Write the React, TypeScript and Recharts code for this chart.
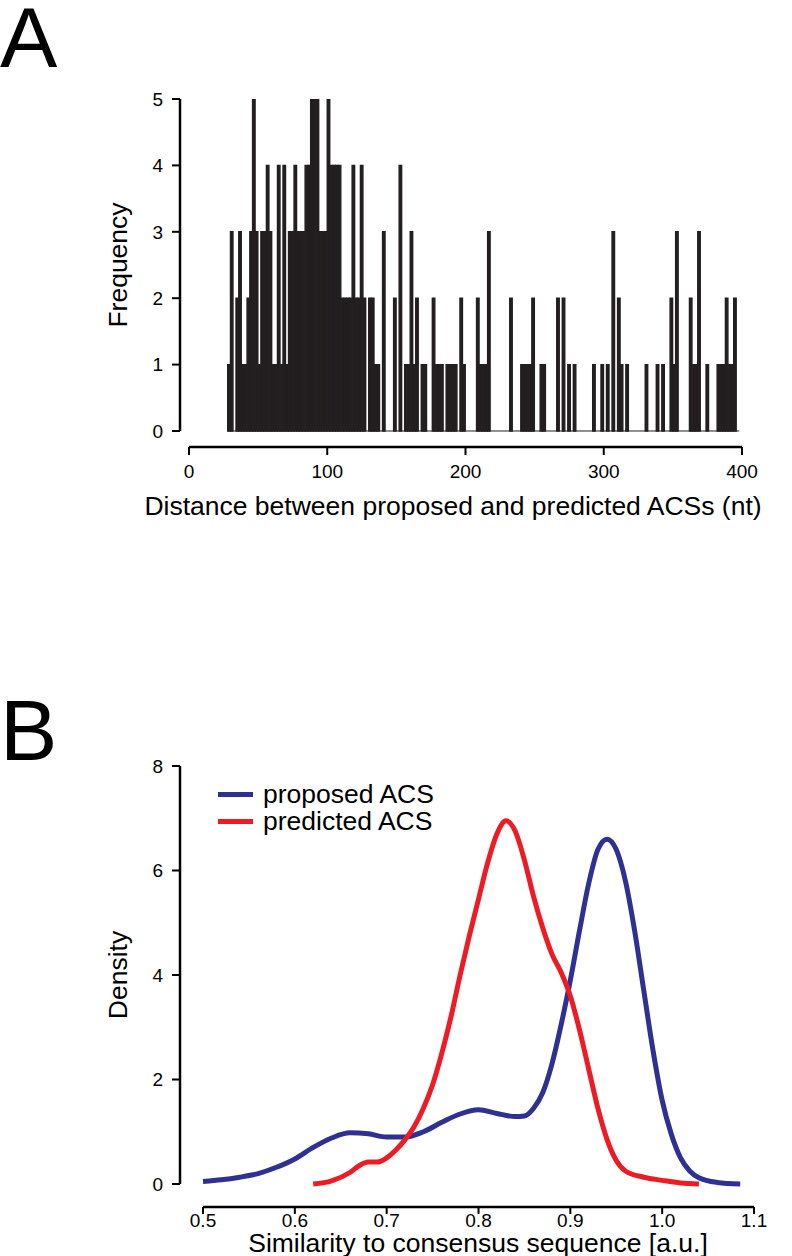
import React from 'react';
import { ComposedChart, Bar, XAxis, YAxis, ReferenceLine, LineChart, Line } from 'recharts';

// ---------- Panel A: histogram (2-nt bins, start of bin) ----------
const binStarts = [
  28, 30, 34, 36, 38, 40, 42, 44, 46, 48, 50, 52, 54, 56, 58, 60, 62, 64, 66, 68,
  70, 72, 74, 76, 78, 80, 82, 84, 86, 88, 90, 92, 94, 96, 98, 100, 102, 104, 106, 108,
  110, 112, 114, 116, 118, 120, 122, 124, 126, 130, 132, 134, 136, 140, 148, 152, 156, 158, 160, 162,
  164, 168, 170, 176, 178, 180, 182, 186, 188, 190, 192, 196, 198, 208, 210, 212, 214, 216, 232, 240,
  242, 244, 246, 248, 254, 256, 266, 270, 274, 278, 292, 298, 302, 306, 310, 312, 316, 330, 338, 342,
  348, 350, 352, 362, 364, 366, 368, 374, 382, 384, 386, 388, 390, 392, 394,
];
const binCounts = [
  1, 3, 2, 3, 1, 1, 2, 3, 5, 3, 1, 3, 3, 4, 3, 1, 1, 4, 1, 4,
  1, 3, 3, 4, 3, 3, 3, 4, 4, 5, 5, 5, 3, 3, 3, 5, 4, 4, 4, 4,
  2, 2, 2, 2, 4, 2, 2, 4, 2, 2, 2, 1, 1, 3, 2, 4, 1, 1, 3, 1,
  2, 1, 1, 2, 1, 1, 1, 1, 1, 1, 1, 2, 1, 2, 1, 1, 1, 3, 2, 1,
  1, 1, 1, 2, 1, 1, 2, 2, 1, 1, 1, 1, 1, 3, 2, 1, 1, 1, 1, 1,
  2, 1, 3, 2, 1, 1, 3, 1, 1, 1, 1, 2, 1, 1, 2,
];
const binWidth = 2;
const histXTicks = [0, 100, 200, 300, 400];
const histYTicks = [0, 1, 2, 3, 4, 5];

// ---------- Panel B: density curves ----------
const proposedX = [
  0.5, 0.52, 0.54, 0.56, 0.58, 0.6, 0.62, 0.64, 0.66, 0.68, 0.7, 0.72, 0.74, 0.76, 0.78, 0.8,
  0.82, 0.84, 0.85, 0.86, 0.87, 0.88, 0.89, 0.9, 0.91, 0.92, 0.93, 0.94, 0.95, 0.96, 0.97, 0.98,
  0.99, 1.0, 1.01, 1.02, 1.03, 1.04, 1.06, 1.085,
];
const proposedY = [
  0.05, 0.08, 0.13, 0.2, 0.32, 0.48, 0.7, 0.88, 0.98, 0.96, 0.9, 0.9, 1.0, 1.18, 1.34, 1.42,
  1.35, 1.29, 1.3, 1.45, 1.75, 2.3, 3.05, 3.9, 4.85, 5.75, 6.4, 6.6, 6.4, 5.8, 4.85, 3.7,
  2.56, 1.6, 0.95, 0.5, 0.25, 0.12, 0.03, 0.0,
];
const predictedX = [
  0.62, 0.64, 0.66, 0.67, 0.68, 0.69, 0.7, 0.71, 0.72, 0.73, 0.74, 0.75, 0.76, 0.77, 0.78, 0.79,
  0.8, 0.81, 0.82, 0.83, 0.84, 0.85, 0.86, 0.87, 0.88, 0.89, 0.9, 0.91, 0.92, 0.93, 0.94, 0.95,
  0.96, 0.98, 1.0, 1.02, 1.04,
];
const predictedY = [
  0.0, 0.06, 0.22, 0.35, 0.42, 0.42, 0.5, 0.65, 0.85, 1.1, 1.45, 1.9, 2.5, 3.2, 4.0, 4.75,
  5.45, 6.15, 6.7, 6.95, 6.75, 6.2, 5.5, 4.9, 4.4, 4.05, 3.6, 2.95, 2.2, 1.45, 0.85, 0.45,
  0.25, 0.13, 0.07, 0.02, 0.0,
];
const densXTicks = [0.5, 0.6, 0.7, 0.8, 0.9, 1.0, 1.1];
const densYTicks = [0, 2, 4, 6, 8];
const seriesNames = ['proposed ACS', 'predicted ACS'];

const histData = binStarts.map((s, i) => ({ mid: s + binWidth / 2, count: binCounts[i] }));
const proposedData = proposedX.map((x, i) => ({ x, y: proposedY[i] }));
const predictedData = predictedX.map((x, i) => ({ x, y: predictedY[i] }));

const FONT = '"Liberation Sans", Arial, Helvetica, sans-serif';
const BLUE = '#2E3192';
const RED = '#ED1C24';
const INK = '#231F20';

const A_XMIN = -6.51;
const A_YMIN = -0.241;
const B_XMIN = 0.47495;
const B_YMIN = -0.44;

const tickStyle = { fill: '#000', fontSize: 19, fontFamily: FONT };
const titleStyle: React.CSSProperties = { position: 'absolute', fontSize: 26.5, whiteSpace: 'nowrap', color: '#000', lineHeight: '24px' };

export default function App() {
  return (
    <div style={{ position: 'absolute', left: 0, top: 0, width: 792, height: 1256, background: '#fff', fontFamily: FONT, overflow: 'hidden' }}>
      {/* Panel A */}
      <div style={{ position: 'absolute', left: 0, top: 0 }}>
        <ComposedChart
          width={792}
          height={560}
          data={histData}
          margin={{ top: 99, right: 50, bottom: 53, left: 120 }}
        >
          <XAxis
            type="number"
            dataKey="mid"
            domain={[A_XMIN, 400]}
            allowDataOverflow
            ticks={histXTicks}
            height={60}
            axisLine={false}
            tickLine={{ stroke: '#000', strokeWidth: 2 }}
            tickSize={8}
            tickMargin={10}
            tick={tickStyle}
            interval={0}
          />
          <YAxis
            type="number"
            domain={[A_YMIN, 5]}
            allowDataOverflow
            ticks={histYTicks}
            width={60}
            axisLine={false}
            tickLine={{ stroke: '#000', strokeWidth: 2 }}
            tickSize={8}
            tickMargin={9}
            tick={tickStyle}
            interval={0}
          />
          <ReferenceLine segment={[{ x: 28, y: 0 }, { x: 398, y: 0 }]} stroke={INK} strokeWidth={1} ifOverflow="visible" />
          <Bar dataKey="count" fill={INK} stroke={INK} strokeWidth={1.4} barSize={3} isAnimationActive={false} />
          <ReferenceLine segment={[{ x: 0, y: A_YMIN }, { x: 400, y: A_YMIN }]} stroke="#000" strokeWidth={2.5} ifOverflow="visible" />
          <ReferenceLine segment={[{ x: A_XMIN, y: 0 }, { x: A_XMIN, y: 5 }]} stroke="#000" strokeWidth={2.5} ifOverflow="visible" />
        </ComposedChart>
      </div>

      {/* Panel B */}
      <div style={{ position: 'absolute', left: 0, top: 640 }}>
        <LineChart width={792} height={616} margin={{ top: 126, right: 38, bottom: 9, left: 120 }}>
          <XAxis
            type="number"
            dataKey="x"
            domain={[B_XMIN, 1.1]}
            allowDataOverflow
            ticks={densXTicks}
            height={40}
            axisLine={false}
            tickLine={{ stroke: '#000', strokeWidth: 2 }}
            tickSize={7}
            tickMargin={0}
            tick={tickStyle}
            tickFormatter={(v: number) => v.toFixed(1)}
            interval={0}
          />
          <YAxis
            type="number"
            domain={[B_YMIN, 8]}
            allowDataOverflow
            ticks={densYTicks}
            width={60}
            axisLine={false}
            tickLine={{ stroke: '#000', strokeWidth: 2 }}
            tickSize={8}
            tickMargin={9}
            tick={tickStyle}
            interval={0}
          />
          <ReferenceLine segment={[{ x: 0.5, y: B_YMIN }, { x: 1.1, y: B_YMIN }]} stroke="#000" strokeWidth={2.5} ifOverflow="visible" />
          <ReferenceLine segment={[{ x: B_XMIN, y: 0 }, { x: B_XMIN, y: 8 }]} stroke="#000" strokeWidth={2.5} ifOverflow="visible" />
          <Line data={proposedData} dataKey="y" type="monotone" stroke={BLUE} strokeWidth={5} dot={false} isAnimationActive={false} />
          <Line data={predictedData} dataKey="y" type="monotone" stroke={RED} strokeWidth={5} dot={false} isAnimationActive={false} />
        </LineChart>
      </div>

      {/* Panel letters */}
      <div style={{ position: 'absolute', left: 0, top: 0, fontSize: 86, lineHeight: '74px', color: '#000' }}>A</div>
      <div style={{ position: 'absolute', left: 0, top: 693, fontSize: 86, lineHeight: '74px', color: '#000' }}>B</div>

      {/* Axis titles */}
      <div style={{ ...titleStyle, left: 118, top: 265, transform: 'translate(-50%, -50%) rotate(-90deg)' }}>Frequency</div>
      <div style={{ ...titleStyle, left: 453, top: 506, transform: 'translate(-50%, -50%)' }}>Distance between proposed and predicted ACSs (nt)</div>
      <div style={{ ...titleStyle, left: 118, top: 975, transform: 'translate(-50%, -50%) rotate(-90deg)' }}>Density</div>
      <div style={{ ...titleStyle, left: 478, top: 1243, transform: 'translate(-50%, -50%)' }}>Similarity to consensus sequence [a.u.]</div>

      {/* Legend */}
      <div style={{ position: 'absolute', left: 218, top: 781, fontSize: 26.5, color: '#000' }}>
        {seriesNames.map((name, i) => (
          <div key={name} style={{ display: 'flex', alignItems: 'center', height: 27, lineHeight: '27px' }}>
            <div style={{ width: 35, height: 5, background: i === 0 ? BLUE : RED, marginRight: 10 }} />
            <span>{name}</span>
          </div>
        ))}
      </div>
    </div>
  );
}
